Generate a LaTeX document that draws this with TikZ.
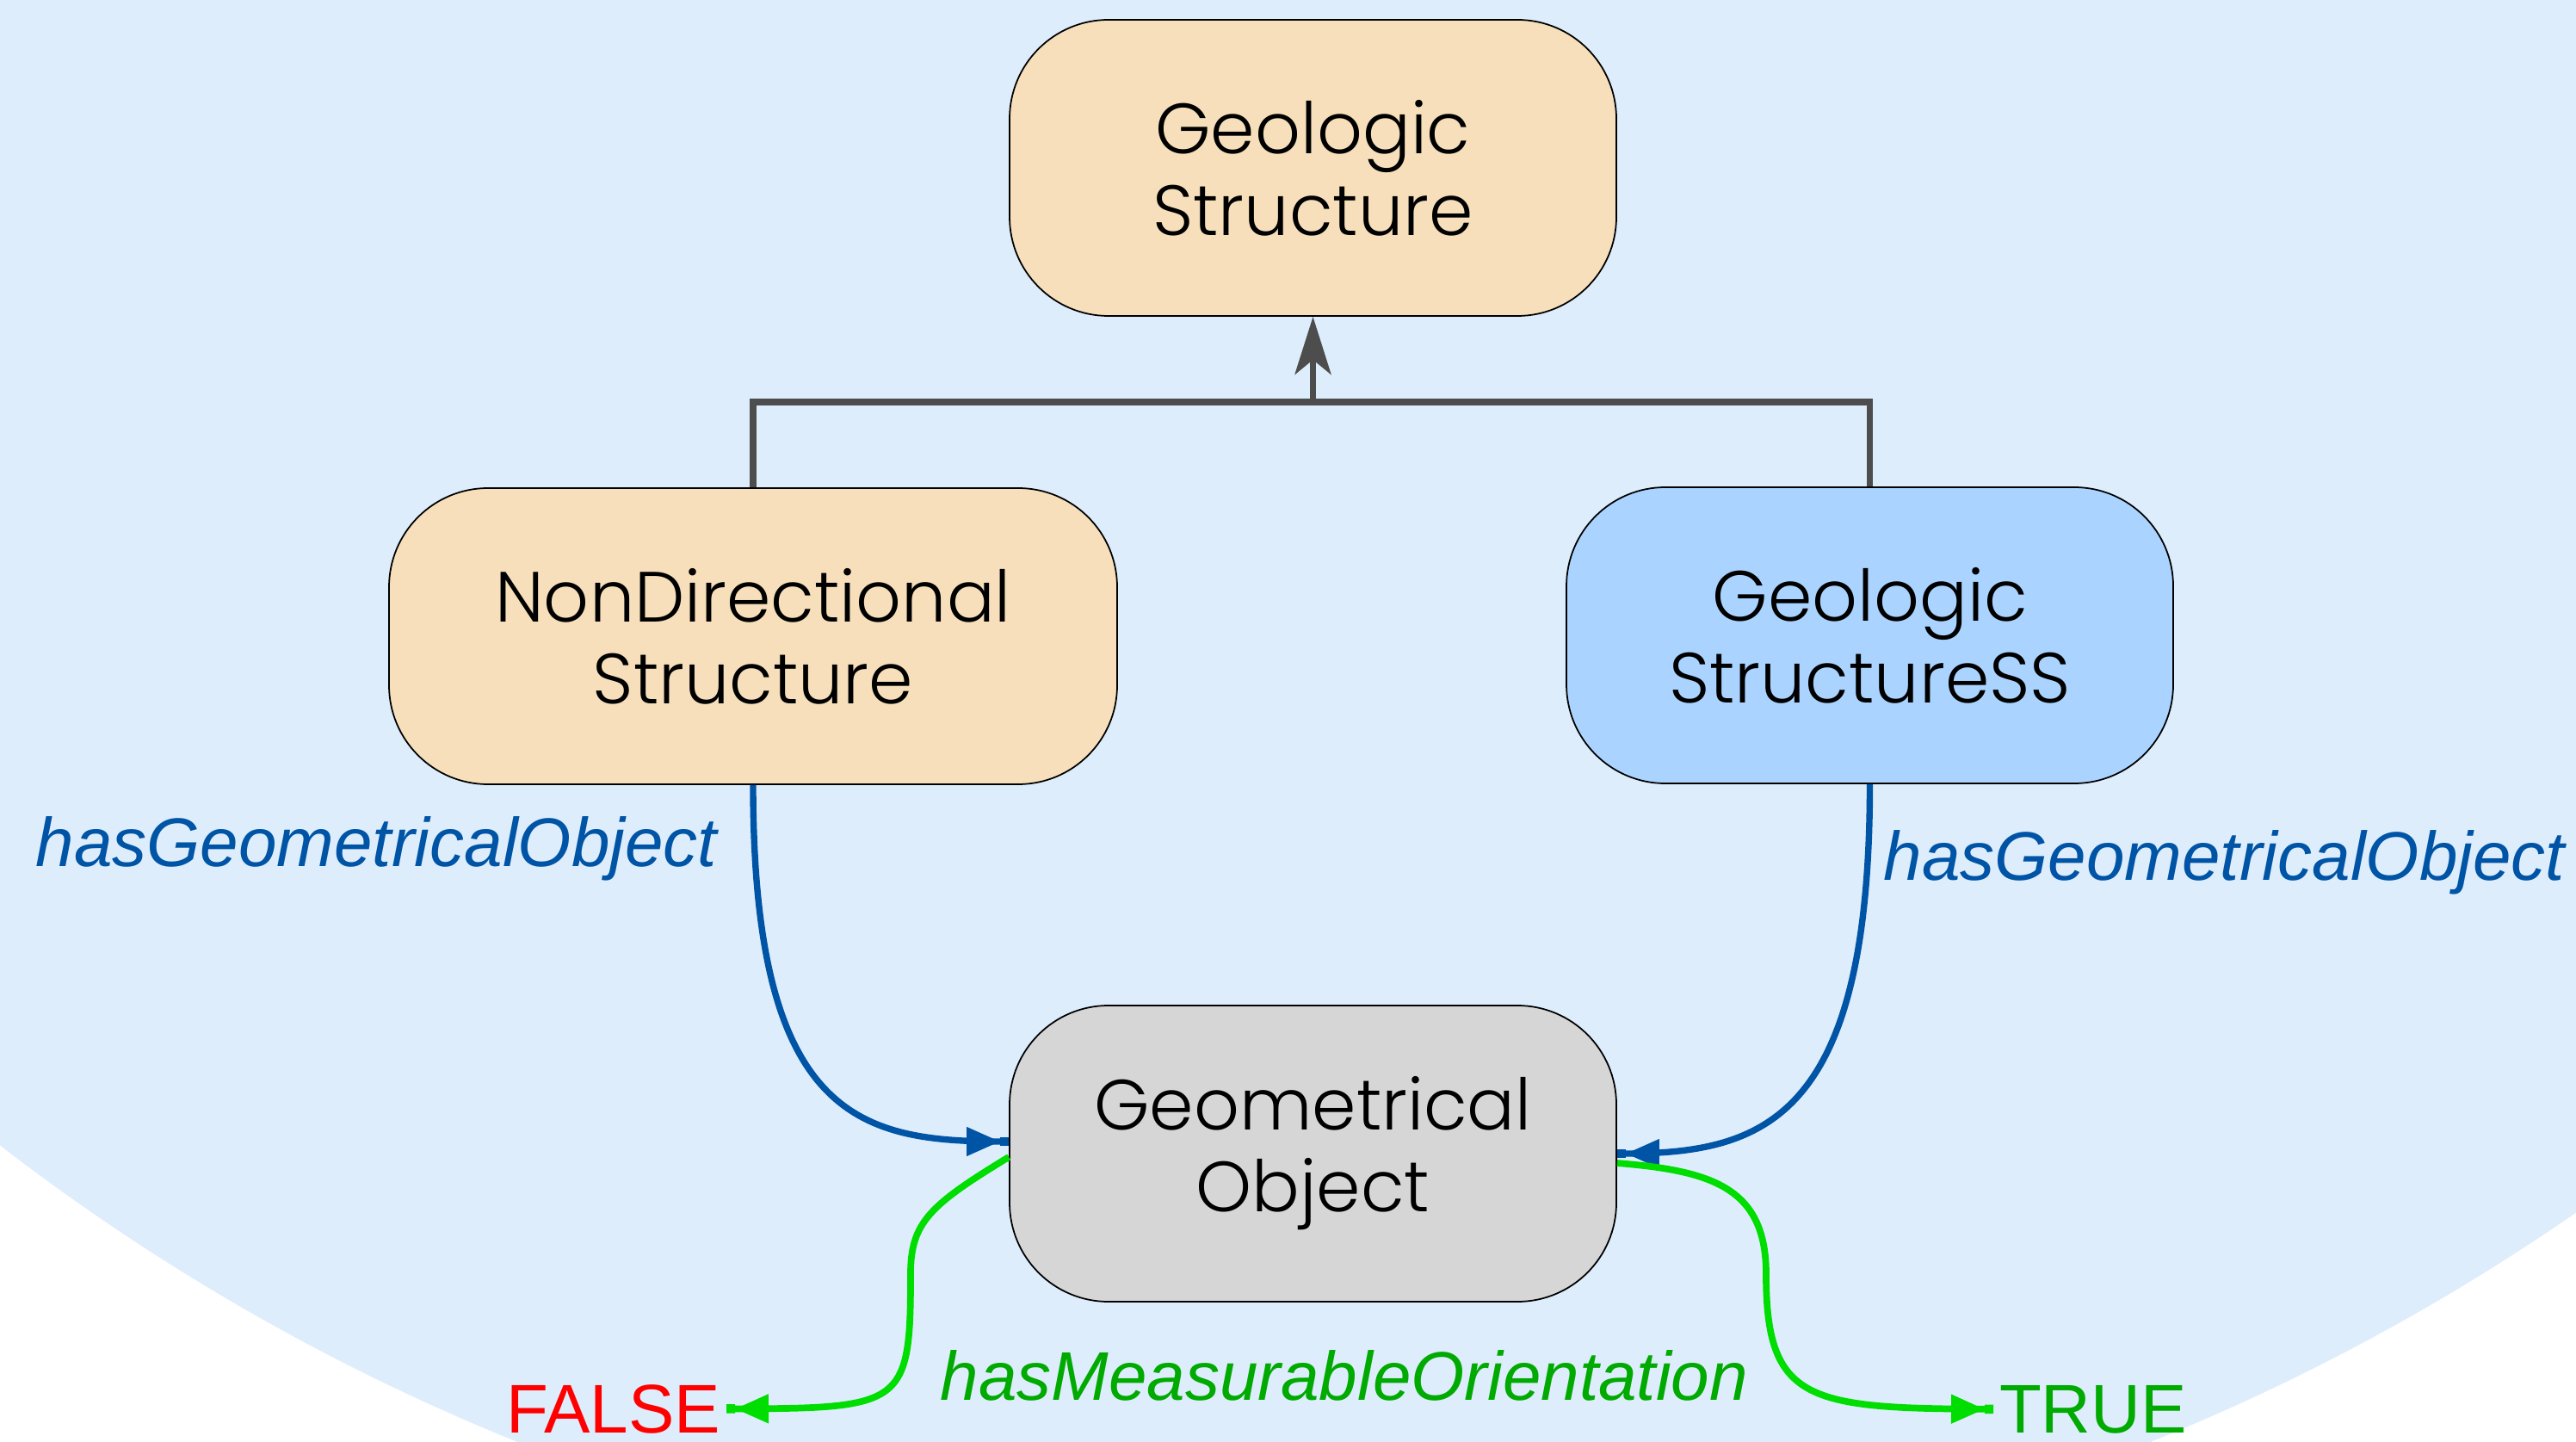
\documentclass[tikz,border=0pt]{standalone}
\usepackage{fontspec}
\setmainfont{Liberation Sans}
\newfontfamily\boxfont{Poppins Light}
\usetikzlibrary{arrows.meta}

\definecolor{bgblue}{RGB}{221,237,252}
\definecolor{wheatfill}{RGB}{246,223,186}
\definecolor{ssblue}{RGB}{170,212,255}
\definecolor{geogray}{RGB}{214,214,214}
\definecolor{isagray}{RGB}{77,77,77}
\definecolor{relblue}{RGB}{0,84,166}
\definecolor{boolline}{RGB}{0,221,0}
\definecolor{booltext}{RGB}{0,170,0}

\tikzset{
  box/.style={draw=black, line width=0.5pt, rounded corners=1.15cm,
    minimum width=7.05cm, minimum height=3.44cm, align=center,
    font=\boxfont\fontsize{23.5}{27}\selectfont},
  isa/.style={draw=isagray, line width=2pt},
  rel/.style={draw=relblue, line width=2.1pt,
    -{Triangle[length=3.9mm,width=3.2mm,sep=0pt]Rectangle[length=1mm,width=3pt]}},
  bool/.style={draw=boolline, line width=2.2pt,
    -{Triangle[length=3.9mm,width=3.2mm,sep=0pt]Rectangle[length=1mm,width=3pt]}},
  lbl/.style={inner sep=0pt, font=\fontsize{22.76}{27}\selectfont\itshape},
  tval/.style={inner sep=0pt, outer sep=0.07cm, font=\fontsize{22.76}{27}\selectfont},
}

\begin{document}
\begin{tikzpicture}
\useasboundingbox (0,0) rectangle (29.93,-16.75);
\begin{scope}
  \clip (0,0) rectangle (29.93,-16.75);
  \fill[bgblue] (15.5,6.82) circle (25.4);
\end{scope}

\node[box, fill=wheatfill] (top) at (15.255,-1.95) {Geologic\\Structure};
\node[box, fill=wheatfill, minimum width=8.46cm] (ndir) at (8.75,-7.39) {NonDirectional\\Structure};
\node[box, fill=ssblue] (ss) at (21.725,-7.38) {Geologic\\StructureSS};
\node[box, fill=geogray] (geo) at (15.255,-13.40) {Geometrical\\Object};

\coordinate (join) at (15.255,-4.67);
\draw[isa] (ndir.north) |- (join) -| (ss.north);
\draw[isa, -{Stealth[length=6.7mm,width=4.2mm,inset=1.7mm]}] (join) -- (top.south);

\draw[rel] (ndir.south) .. controls (8.75,-13.0) and (10.0,-13.26) .. ([yshift=0.14cm]geo.west);
\draw[rel] (ss.south) .. controls (21.725,-13.0) and (20.5,-13.40) .. (geo.east);

\node[lbl, text=relblue, anchor=base west] (lblL) at (0.41,-10.06) {hasGeometricalObject};
\node[lbl, text=relblue, anchor=base west] (lblR) at (21.88,-10.22) {hasGeometricalObject};

\node[tval, text=red, anchor=base east] (false) at (8.44,-16.64) {FALSE};
\node[tval, text=booltext, anchor=base west] (true) at (23.16,-16.64) {TRUE};

\draw[bool] ([yshift=-0.04cm]geo.west) .. controls (10.8,-14.0) and (10.58,-14.2) .. (10.58,-14.8)
  .. controls (10.58,-16.33) and (10.5,-16.36) .. (false.east);
\draw[bool] ([yshift=-0.11cm]geo.east) .. controls (19.9,-13.6) and (20.52,-13.8) .. (20.52,-14.8)
  .. controls (20.52,-16.28) and (21.0,-16.36) .. (true.west);

\node[lbl, text=booltext, anchor=base west] (lblM) at (10.92,-16.26) {hasMeasurableOrientation};
\end{tikzpicture}
\end{document}
